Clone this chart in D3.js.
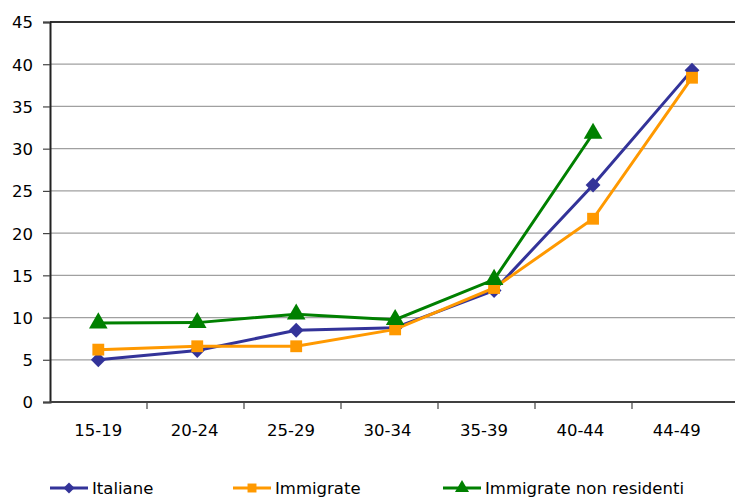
<!DOCTYPE html>
<html><head><meta charset="utf-8">
<script src="https://cdn.jsdelivr.net/npm/d3@7"></script>
<style>body{margin:0;background:#fff}svg{display:block}text{font-family:Tahoma,"DejaVu Sans",sans-serif;font-size:16.5px;fill:#000}</style>
</head><body><svg id="c" width="735" height="497"></svg>
<script>
const categories = ["15-19","20-24","25-29","30-34","35-39","40-44","44-49"];
const italiane = [5.0, 6.1, 8.5, 8.8, 13.2, 25.7, 39.3];
const immigrate = [6.2, 6.6, 6.6, 8.6, 13.5, 21.7, 38.4];
const nonResidenti = [9.35, 9.4, 10.4, 9.75, 14.5, 31.8, null];
const yTicks = [0,5,10,15,20,25,30,35,40,45];
const seriesNames = ["Italiane","Immigrate","Immigrate non residenti"];

const svg = d3.select("#c");
const L = 50, R = 729, T = 22, B = 402;
const xTick = d3.scaleBand().domain(categories).range([L, R]);
const xLab = d3.scaleBand().domain(categories).range([L, 725]);
const xPt = d3.scalePoint().domain(categories).range([98.3, 692]);
const y = d3.scaleLinear().domain([0,45]).range([B, T]);

// grid
svg.append("g").selectAll("line").data(yTicks.filter(d=>d>0)).join("line")
  .attr("x1", L).attr("x2", 735).attr("y1", d=>y(d)).attr("y2", d=>y(d))
  .attr("stroke", d=>d===45?"#333":"#a0a0a0").attr("stroke-width", d=>d===45?2:1.2);

// y axis
const ya = svg.append("g").attr("transform",`translate(${L},0)`)
  .call(d3.axisLeft(y).tickValues(yTicks).tickSize(7).tickPadding(10));
ya.select(".domain").attr("stroke","#222").attr("stroke-width",2);
ya.selectAll(".tick line").attr("stroke","#444").attr("stroke-width",1.2);
ya.selectAll("text").style("font-size","16.5px").attr("fill","#000").attr("dy","0.36em");

// x axis labels
const xa = svg.append("g").attr("transform",`translate(0,${B})`)
  .call(d3.axisBottom(xLab).tickSize(0).tickPadding(22));
xa.select(".domain").remove();
xa.selectAll("text").style("font-size","16.5px").attr("fill","#000");
svg.append("line").attr("x1",L).attr("x2",735).attr("y1",B).attr("y2",B).attr("stroke","#404040").attr("stroke-width",2);
svg.append("g").selectAll("line").data(categories.slice(1)).join("line")
  .attr("x1",d=>xTick(d)).attr("x2",d=>xTick(d))
  .attr("y1",B).attr("y2",B+7).attr("stroke","#444").attr("stroke-width",1.2);

const diamond = {draw(ctx, size){ const r = Math.sqrt(size)/2*1.414; ctx.moveTo(0,-r); ctx.lineTo(r,0); ctx.lineTo(0,r); ctx.lineTo(-r,0); ctx.closePath(); }};
const series = [
  {name: seriesNames[0], vals: italiane, color:"#333399", sym: diamond, size: 110, lsize: 60},
  {name: seriesNames[1], vals: immigrate, color:"#FF9900", sym: d3.symbolSquare, size: 140, lsize: 80},
  {name: seriesNames[2], vals: nonResidenti, color:"#008000", sym: d3.symbolTriangle, size: 150, lsize: 85}
];
const line = d3.line().defined(d=>d.v!=null).x(d=>xPt(d.c)).y(d=>y(d.v));
series.forEach(s=>{
  const pts = categories.map((c,i)=>({c, v:s.vals[i]}));
  svg.append("path").datum(pts).attr("d",line).attr("fill","none").attr("stroke",s.color).attr("stroke-width",3);
  svg.append("g").selectAll("path").data(pts.filter(d=>d.v!=null)).join("path")
    .attr("d", d3.symbol().type(s.sym).size(s.size))
    .attr("transform", d=>`translate(${xPt(d.c)},${y(d.v)})`)
    .attr("fill", s.color);
});

// legend
const legX = [50, 233, 443];
series.forEach((s,i)=>{
  const g = svg.append("g").attr("transform",`translate(${legX[i]},488)`);
  g.append("line").attr("x1",0).attr("x2",38).attr("stroke",s.color).attr("stroke-width",3);
  g.append("path").attr("d", d3.symbol().type(s.sym).size(s.lsize)).attr("transform","translate(19,0)").attr("fill",s.color);
  g.append("text").attr("x",42).attr("y",0).attr("dy","0.36em").text(s.name);
});
</script></body></html>
